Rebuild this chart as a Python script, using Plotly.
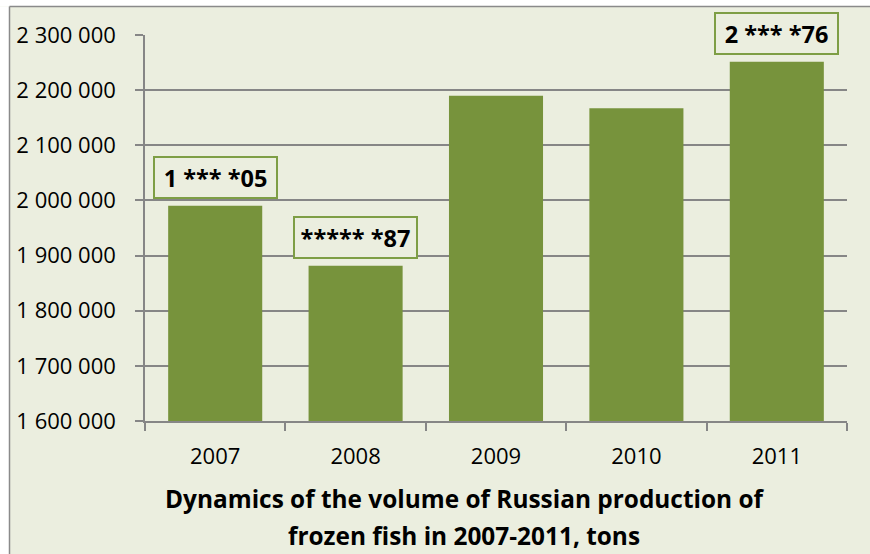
import plotly.graph_objects as go

years = ["2007", "2008", "2009", "2010", "2011"]
volumes = [1990400, 1881600, 2190000, 2167000, 2251500]
bar_labels = ["1 *** *05", "***** *87", None, None, "2 *** *76"]
y_ticks = [1600000, 1700000, 1800000, 1900000, 2000000, 2100000, 2200000, 2300000]
y_tick_text = ["1 600 000", "1 700 000", "1 800 000", "1 900 000",
               "2 000 000", "2 100 000", "2 200 000", "2 300 000"]
title_lines = ["Dynamics of the volume of Russian production of",
               "frozen fish in 2007-2011, tons"]

BG = "#EBEEDF"
BAR = "#77933C"
GRID = "#868686"
FONT = "Open Sans"

W, H = 870, 554
L, R, T, B = 145, 847, 35, 421

def px_x(p):
    return (p - L) / (R - L)

def px_y(p):
    return (B - p) / (B - T)

fig = go.Figure()
fig.add_trace(go.Bar(x=years, y=volumes, marker=dict(color=BAR, line=dict(width=0)),
                     hoverinfo="x+y"))

annotations = []
for i, (v, lab) in enumerate(zip(volumes, bar_labels)):
    if lab is None:
        continue
    annotations.append(dict(
        x=i, y=v, xref="x", yref="y", text="<b>" + lab + "</b>", showarrow=False,
        yanchor="bottom", yshift=7, font=dict(family=FONT, size=23.5, color="black"),
        bgcolor=BG, bordercolor="#7E9E45", borderwidth=2, borderpad=4,
        width=113, height=31))

for i, line in enumerate(title_lines):
    annotations.append(dict(
        x=px_x(464), y=px_y(498 + 37 * i), xref="paper", yref="paper",
        text="<b>" + line + "</b>", showarrow=False, xanchor="center", yanchor="middle",
        font=dict(family=FONT, size=24.4, color="black")))

shapes = [
    dict(type="rect", xref="paper", yref="paper", x0=px_x(-20), x1=px_x(W + 20),
         y0=px_y(6.5), y1=px_y(-20), fillcolor="white", line=dict(width=0), layer="above"),
    dict(type="rect", xref="paper", yref="paper", x0=px_x(-20), x1=px_x(9.5),
         y0=px_y(H + 20), y1=px_y(6.5), fillcolor="white", line=dict(width=0), layer="above"),
    dict(type="line", xref="paper", yref="paper", x0=px_x(9.5), x1=px_x(W + 20),
         y0=px_y(6.5), y1=px_y(6.5), line=dict(color="#8A8A8A", width=1.5), layer="above"),
    dict(type="line", xref="paper", yref="paper", x0=px_x(9.5), x1=px_x(9.5),
         y0=px_y(6.5), y1=px_y(H + 20), line=dict(color="#8A8A8A", width=1.5), layer="above"),
]

fig.update_layout(
    width=W, height=H,
    margin=dict(l=L, r=W - R, t=T, b=H - B, pad=0),
    paper_bgcolor=BG, plot_bgcolor=BG,
    bargap=0.33,
    showlegend=False,
    annotations=annotations,
    shapes=shapes,
    font=dict(family=FONT, color="black"),
)
fig.update_xaxes(
    type="category", range=[-0.5, 4.5], tickson="boundaries", ticks="outside",
    ticklen=8, tickwidth=1.5,
    tickcolor=GRID, showline=True, linecolor=GRID, linewidth=1.5, showgrid=False,
    tickfont=dict(family=FONT, size=22, color="black"), ticklabelstandoff=15,
)
fig.update_yaxes(
    range=[1600000, 2300000], tickvals=y_ticks, ticktext=y_tick_text,
    ticks="outside", ticklen=8, tickwidth=1.5, tickcolor=GRID,
    showline=True, linecolor=GRID, linewidth=1.5,
    showgrid=True, gridcolor=GRID, gridwidth=1.5, zeroline=False,
    tickfont=dict(family=FONT, size=22, color="black"), ticklabelstandoff=15,
)

fig.write_html("out.html", config={"displayModeBar": False},
               post_script="document.body.style.margin='0px';")
